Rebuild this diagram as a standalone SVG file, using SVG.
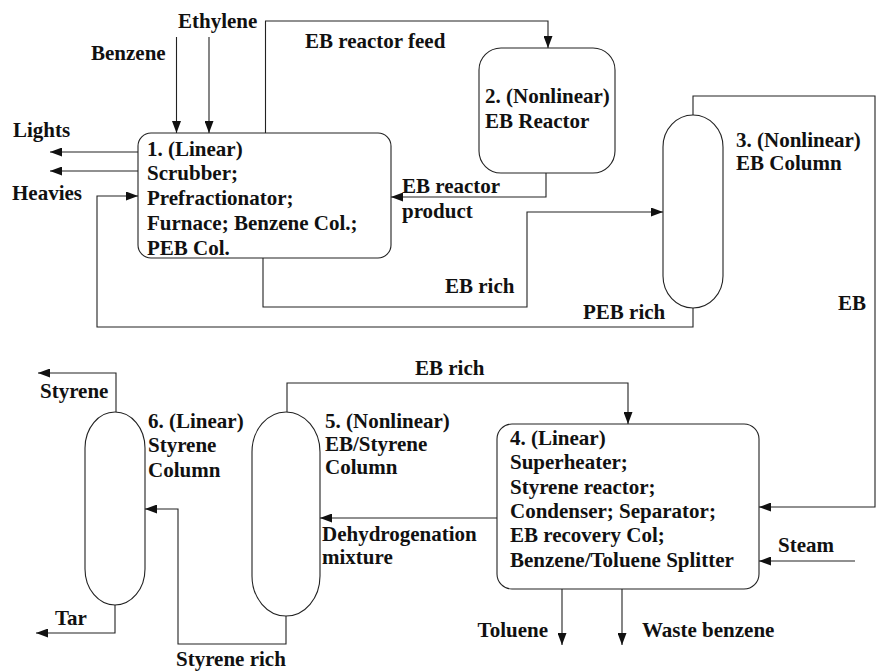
<svg xmlns="http://www.w3.org/2000/svg" width="876" height="671" viewBox="0 0 876 671">
<style>
text{font-family:"Liberation Serif","Times New Roman",serif;font-weight:bold;font-size:21px;fill:#111}
.n{fill:#fff;stroke:#222;stroke-width:1.1}
.c{fill:none;stroke:#222;stroke-width:1.1}
</style>
<defs>
<marker id="ah" markerUnits="userSpaceOnUse" markerWidth="13" markerHeight="9" refX="12" refY="4.5" orient="auto">
<path d="M0,0 L12,4.5 L0,9 Z" fill="#111"/>
</marker>
</defs>
<rect width="876" height="671" fill="#fff"/>
<g id="connectors">
<path class="c" d="M176.5,37 V133" marker-end="url(#ah)"/>
<path class="c" d="M209,37 V133" marker-end="url(#ah)"/>
<path class="c" d="M265.5,133 V21 H548 V48" marker-end="url(#ah)"/>
<path class="c" d="M546,173 V197 H391" marker-end="url(#ah)"/>
<path class="c" d="M138,152 H50" marker-end="url(#ah)"/>
<path class="c" d="M138,171 H50" marker-end="url(#ah)"/>
<path class="c" d="M693,308 V327 H97 V196 H138" marker-end="url(#ah)"/>
<path class="c" d="M263,258 V307 H527 V212 H663" marker-end="url(#ah)"/>
<path class="c" d="M693,115 V96 H875 V507 H759" marker-end="url(#ah)"/>
<path class="c" d="M855,561 H759" marker-end="url(#ah)"/>
<path class="c" d="M287,412 V383 H628 V424" marker-end="url(#ah)"/>
<path class="c" d="M497,518 H320" marker-end="url(#ah)"/>
<path class="c" d="M286,616 V644 H178 V509 H145" marker-end="url(#ah)"/>
<path class="c" d="M116,412 V373 H38" marker-end="url(#ah)"/>
<path class="c" d="M115,605 V633 H36" marker-end="url(#ah)"/>
<path class="c" d="M562,589 V645" marker-end="url(#ah)"/>
<path class="c" d="M622,589 V645" marker-end="url(#ah)"/>
</g>
<g id="labels">
<text x="178" y="28">Ethylene</text>
<text x="91" y="60">Benzene</text>
<text x="305" y="48">EB reactor feed</text>
<text x="13" y="137">Lights</text>
<text x="12" y="200">Heavies</text>
<text x="402" y="193">EB reactor</text>
<text x="402" y="218">product</text>
<text x="445" y="293">EB rich</text>
<text x="583" y="319">PEB rich</text>
<text x="838" y="310">EB</text>
<text x="415" y="375">EB rich</text>
<text x="40" y="398">Styrene</text>
<text x="55" y="625">Tar</text>
<text x="322" y="541">Dehydrogenation</text>
<text x="322" y="564">mixture</text>
<text x="778" y="552">Steam</text>
<text x="548" y="637" text-anchor="end">Toluene</text>
<text x="642" y="637">Waste benzene</text>
<text x="176" y="666">Styrene rich</text>
</g>
<g id="node1">
<rect class="n" x="138" y="133" width="253" height="125" rx="13"/>
<text x="147" y="156">1. (Linear)</text>
<text x="147" y="180">Scrubber;</text>
<text x="147" y="205">Prefractionator;</text>
<text x="147" y="230">Furnace; Benzene Col.;</text>
<text x="147" y="255">PEB Col.</text>
</g>
<g id="node2">
<rect class="n" x="479" y="48" width="136" height="125" rx="22"/>
<text x="485" y="103">2. (Nonlinear)</text>
<text x="485" y="128">EB Reactor</text>
</g>
<g id="node3">
<path class="n" d="M663,147 A30,32 0 0 1 723,147 V276 A30,32 0 0 1 663,276 Z"/>
<text x="736" y="147">3. (Nonlinear)</text>
<text x="736" y="170">EB Column</text>
</g>
<g id="node4">
<rect class="n" x="497" y="424" width="262" height="165" rx="15"/>
<text x="510" y="445">4. (Linear)</text>
<text x="510" y="469">Superheater;</text>
<text x="510" y="494">Styrene reactor;</text>
<text x="510" y="518">Condenser; Separator;</text>
<text x="510" y="542">EB recovery Col;</text>
<text x="510" y="567">Benzene/Toluene Splitter</text>
</g>
<g id="node5">
<path class="n" d="M252,452 A34,40 0 0 1 320,452 V576 A34,40 0 0 1 252,576 Z"/>
<text x="325" y="428">5. (Nonlinear)</text>
<text x="325" y="451">EB/Styrene</text>
<text x="325" y="474">Column</text>
</g>
<g id="node6">
<path class="n" d="M85,448 A30,36 0 0 1 145,448 V569 A30,36 0 0 1 85,569 Z"/>
<text x="148" y="428">6. (Linear)</text>
<text x="148" y="452">Styrene</text>
<text x="148" y="477">Column</text>
</g>
</svg>
